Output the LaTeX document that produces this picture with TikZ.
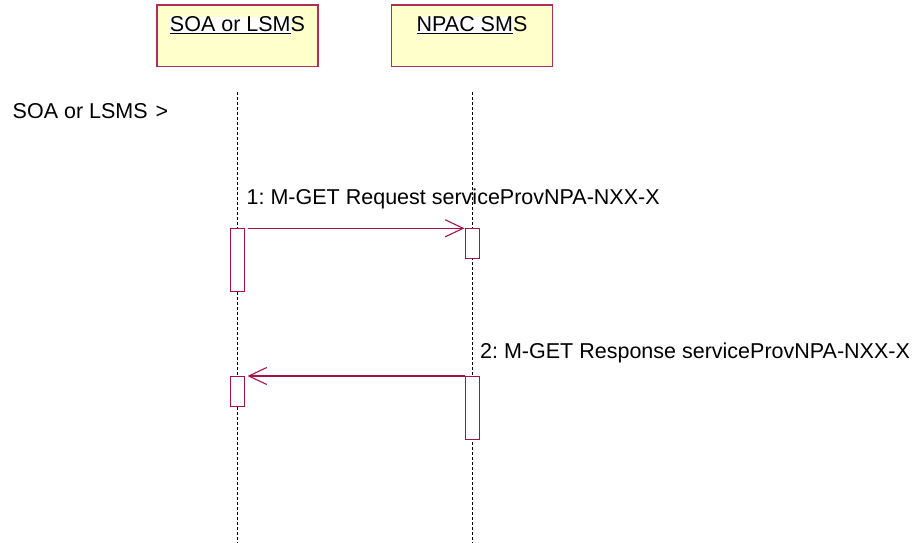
\documentclass[tikz,border=0pt]{standalone}
\usepackage{fontspec}
\setmainfont{Liberation Sans}
\usetikzlibrary{arrows.meta}
\definecolor{boxfill}{HTML}{FFFFCC}
\definecolor{boxline}{HTML}{B02D5C}
\definecolor{msgline}{HTML}{A8104A}
\newcommand\ulwhite[1]{{\setlength{\fboxsep}{0pt}\colorbox{white}{\underline{#1}}}}
\frenchspacing
\begin{document}
\begin{tikzpicture}[x=1pt,y=-1pt,
  lbl/.style={font=\fontsize{21.5}{24}\selectfont, inner sep=0pt},
  headbox/.style={draw=boxline, fill=boxfill, line width=1.2pt, minimum width=161pt, minimum height=61.7pt, inner sep=0pt},
  lifeline/.style={draw=black, line width=0.8pt, dash pattern=on 3pt off 2pt},
  actbox/.style={draw=msgline, fill=white, line width=1pt, minimum width=14pt, inner sep=0pt},
  msg/.style={draw=msgline, line width=1.1pt, -{Straight Barb[length=18pt,width=17pt,line width=1.1pt]}}]
\useasboundingbox (0,0) rectangle (914,543);
% headers
\node[headbox] (h1) at (237.5,35.85) {};
\node[headbox] (h2) at (472,35.85) {};
\node[lbl, anchor=base] (t1) at (237.5,31.7) {\ulwhite{SOA or LSM}S};
\node[lbl, anchor=base] (t2) at (472,31.7) {\ulwhite{NPAC SM}S};
% lifelines
\coordinate (l1top) at (237.5,92);
\coordinate (l1bot) at (237.5,543);
\coordinate (l2top) at (472,92);
\coordinate (l2bot) at (472,543);
\draw[lifeline] (l1top) -- (l1bot);
\draw[lifeline] (l2top) -- (l2bot);
% left label
\node[lbl, anchor=base west] (state) at (12.5,119) {SOA or LSMS\hspace{2pt} >};
% activations
\node[actbox, minimum height=63pt, anchor=north] (a1) at (237.5,227.7) {};
\node[actbox, minimum height=30.6pt, anchor=north] (b1) at (472,227.7) {};
\node[actbox, minimum height=30.3pt, anchor=north] (a2) at (237.5,375.7) {};
\node[actbox, minimum height=63pt, anchor=north] (b2) at (472,375.7) {};
% messages
\draw[msg] ([xshift=2.5pt,yshift=-0.6pt]a1.north east) -- ([yshift=-0.6pt]b1.north west);
\node[lbl, anchor=base west] (m1) at (246.5,204) {1: M-GET Request serviceProvNPA-NXX-X};
\draw[msg] ([yshift=-0.3pt]b2.north west) -- ([xshift=2.5pt,yshift=-0.3pt]a2.north east);
\node[lbl, anchor=base west] (m2) at (480,358) {2: M-GET Response serviceProvNPA-NXX-X};
\end{tikzpicture}
\end{document}
